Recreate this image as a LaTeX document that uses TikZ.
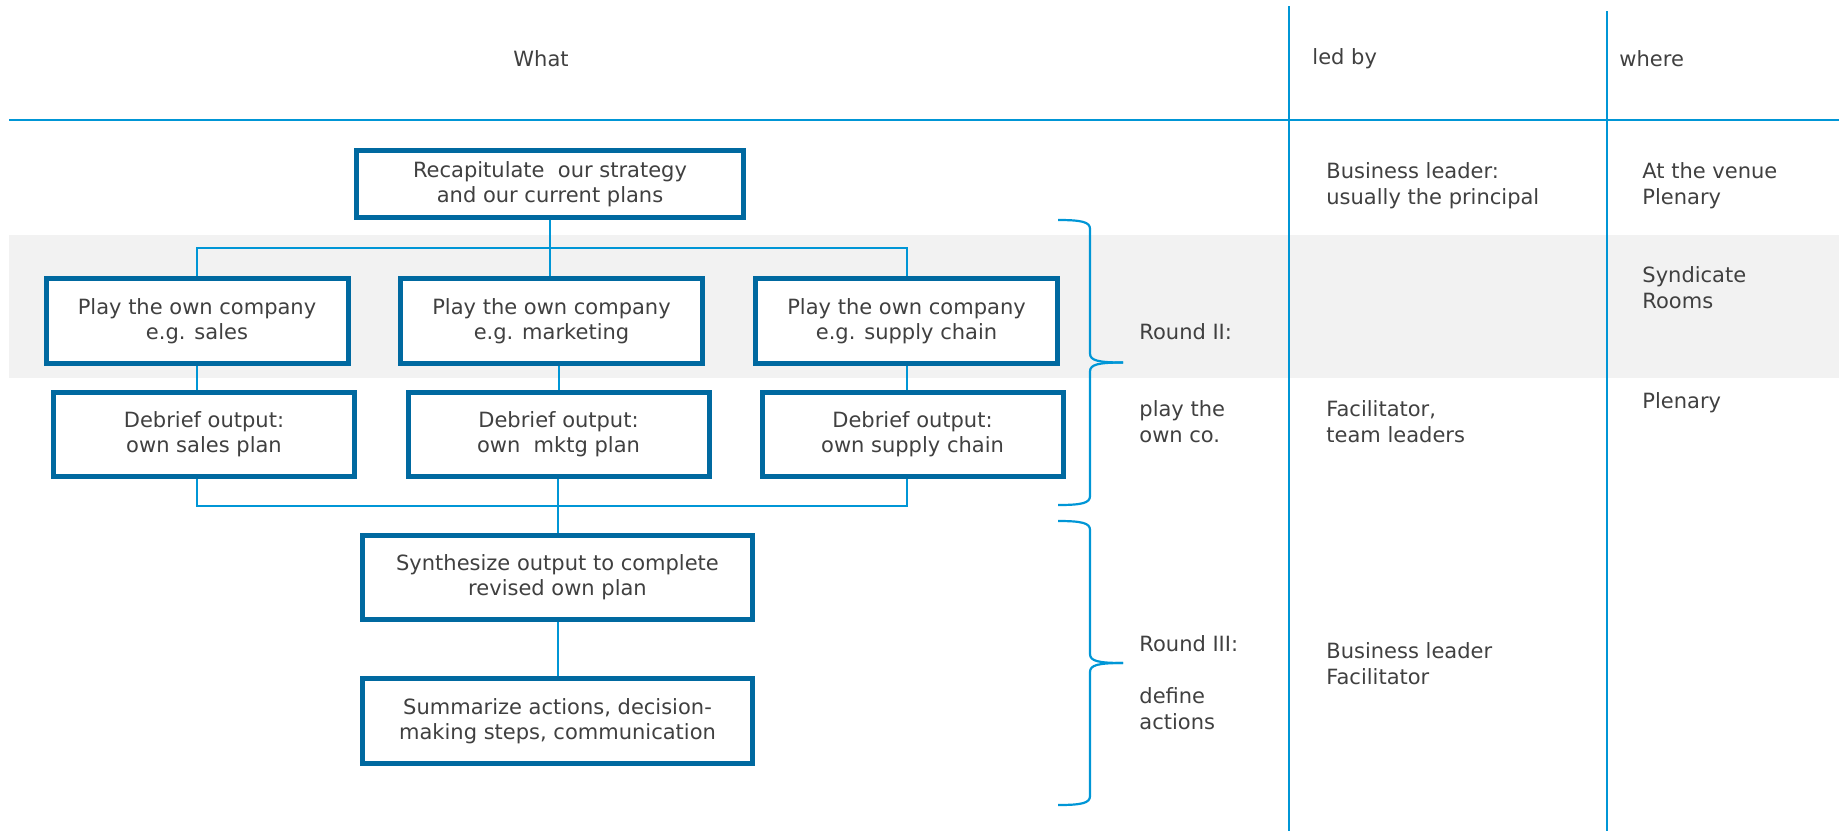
\documentclass[tikz,border=0pt]{standalone}
\usepackage{fontspec}
\setmainfont{DejaVu Sans}
\usepackage{tikz}
\usetikzlibrary{calc}
\usepackage{color}
\definecolor{boxblue}{RGB}{0,105,160}
\definecolor{lineblue}{RGB}{0,150,214}
\definecolor{bandgray}{RGB}{242,242,242}
\definecolor{textgray}{RGB}{64,64,64}
\newcommand{\roundbrace}[3] % spine x in px, top y in px, bottom y in px
{
	% upper half
	\draw[bracket] (#1-32,#2) .. controls (#1-8,#2) and (#1,#2+2) .. (#1,#2+9)
		-- (#1,{(#2+#3)/2-9}) .. controls (#1,{(#2+#3)/2-2}) and (#1+8,{(#2+#3)/2}) .. (#1+33,{(#2+#3)/2});
	% lower half
	\draw[bracket] (#1+33,{(#2+#3)/2}) .. controls (#1+8,{(#2+#3)/2}) and (#1,{(#2+#3)/2+2}) .. (#1,{(#2+#3)/2+9})
		-- (#1,#3-9) .. controls (#1,#3-2) and (#1-8,#3) .. (#1-32,#3);
}
\tikzset{
	taskbox/.style={draw=boxblue, line width=2.5pt, fill=white, align=center, inner sep=0pt,
		text=textgray, font=\fontsize{10.5}{12.5}\selectfont},
	link/.style={draw=lineblue, line width=1pt},
	bracket/.style={draw=lineblue, line width=1.1pt},
	cell/.style={anchor=west, align=left, inner sep=0pt, text=textgray,
		font=\fontsize{10.5}{13}\selectfont}
}

\begin{document}
\begin{tikzpicture}[x=0.5pt, y=-0.5pt]
	% page: 1839px x 831px
	\useasboundingbox (0,0) rectangle (1839,831);
	% syndicate band
	\fill[bandgray] (9,235) rectangle (1839,378);
	% table rules
	\draw[lineblue, line width=1.2pt] (9,120) -- (1839,120);
	\draw[lineblue, line width=1pt] (1289,6) -- (1289,831);
	\draw[lineblue, line width=1pt] (1607,11) -- (1607,831);
	% column heads
	\node[cell, anchor=center] (what) at (541,59) {What};
	\node[cell] (ledby) at (1312,59) {led by};
	\node[cell] (where) at (1619,59) {where};
	% round I
	\node[taskbox, minimum width=193.5pt, minimum height=33.5pt] (recap) at (550,184)
		{Recapitulate \ our strategy\\and our current plans};
	% round II
	\node[taskbox, minimum width=151pt, minimum height=42.5pt] (play1) at (197,321)
		{Play the own company\\e.g. sales};
	\node[taskbox, minimum width=151pt, minimum height=42.5pt] (play2) at (551.5,321)
		{Play the own company\\e.g. marketing};
	\node[taskbox, minimum width=151pt, minimum height=42.5pt] (play3) at (906.5,321)
		{Play the own company\\e.g. supply chain};
	\node[taskbox, minimum width=150.5pt, minimum height=42pt] (deb1) at (204,434.5)
		{Debrief output:\\own sales plan};
	\node[taskbox, minimum width=150.5pt, minimum height=42pt] (deb2) at (558.5,434.5)
		{Debrief output:\\own \ mktg plan};
	\node[taskbox, minimum width=150.5pt, minimum height=42pt] (deb3) at (912.5,434.5)
		{Debrief output:\\own supply chain};
	% round III
	\node[taskbox, minimum width=195pt, minimum height=42pt] (synth) at (557.5,577.5)
		{Synthesize output to complete\\revised own plan};
	\node[taskbox, minimum width=195pt, minimum height=42.5pt] (summ) at (557.5,721)
		{Summarize actions, decision-\\making steps, communication};
	% connectors
	\coordinate (topbus) at (550,248);
	\coordinate (botbus) at (557.5,506);
	\draw[link] (recap.south) -- (recap.south |- play2.north);
	\draw[link] (play1.north) |- (topbus) -| (play3.north);
	\draw[link] (play1.south) -- (play1.south |- deb1.north);
	\draw[link] (deb2.north |- play2.south) -- (deb2.north);
	\draw[link] (play3.south) -- (play3.south |- deb3.north);
	\draw[link] (play1.south |- deb1.south) |- (botbus) -| (play3.south |- deb3.south);
	\draw[link] (synth.north |- deb2.south) -- (synth.north);
	\draw[link] (synth.south) -- (summ.north);
	% braces
	\roundbrace{1090}{220}{505};
	\roundbrace{1090}{521}{805};
	% led by / where
	\node[cell] (lead1) at (1326,186) {Business leader:\\usually the principal};
	\node[cell] (place1) at (1642,186) {At the venue\\Plenary};
	\node[cell] (place2) at (1642,288) {Syndicate\\Rooms};
	\node[cell] (round2) at (1139,332) {Round II:};
	\node[cell] (round2b) at (1139,422) {play the\\own co.};
	\node[cell] (lead2) at (1326,422) {Facilitator,\\team leaders};
	\node[cell] (place3) at (1642,403) {Plenary};
	\node[cell] (round3) at (1139,682.5) {Round III:\\[13pt]define\\actions};
	\node[cell] (lead3) at (1326,663.5) {Business leader\\Facilitator};
\end{tikzpicture}
\end{document}
